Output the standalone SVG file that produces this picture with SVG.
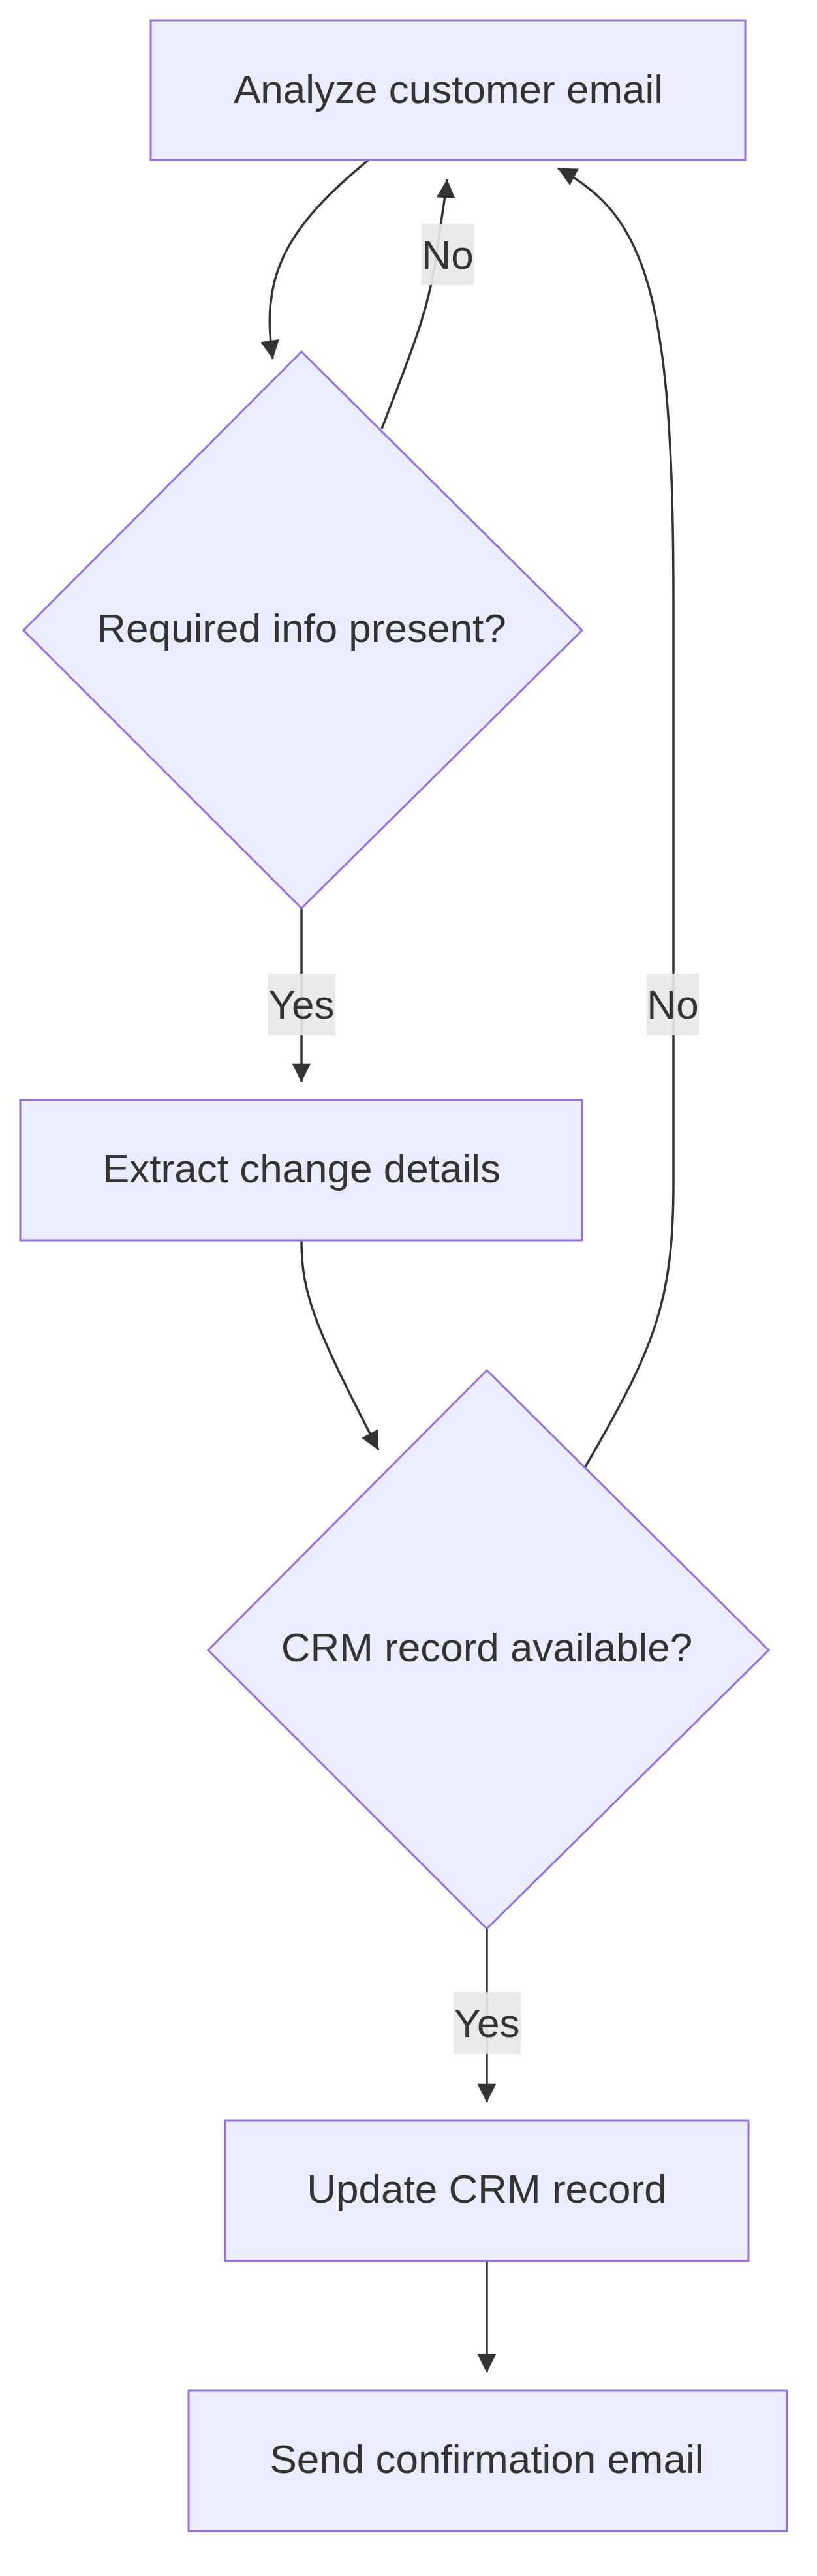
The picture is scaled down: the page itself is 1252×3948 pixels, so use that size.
<svg xmlns="http://www.w3.org/2000/svg" width="1252" height="3948" viewBox="0 0 1252 3948">
<style>
.node{fill:#ececff;stroke:#9370db;stroke-width:3}
.t{font-family:"Liberation Sans",Arial,sans-serif;font-size:62px;fill:#333;text-anchor:middle;dominant-baseline:central}
.e{fill:none;stroke:#333;stroke-width:3.5}
.lb{fill:#e8e8e8;opacity:0.9}
</style>
<defs>
<marker id="a" viewBox="0 0 10 10" refX="9" refY="5" markerWidth="9" markerHeight="9" markerUnits="userSpaceOnUse" orient="auto" overflow="visible">
<path d="M0,0 L10,5 L0,10 z" fill="#333" transform="scale(3.2) translate(-7,-3.4)"/>
</marker>
</defs>
<rect width="1252" height="3948" fill="#fff"/>
<g id="edges">
<path class="e" d="M565,245 C430,355 400,430 418,550" marker-end="url(#a)"/>
<path class="e" d="M585,657 C630,540 660,470 670,380 C682,300 684,290 685,275" marker-end="url(#a)"/>
<path class="e" d="M897,2248 C1000,2070 1032,2000 1032,1814 L1032,920 C1032,450 990,330 855,258" marker-end="url(#a)"/>
<path class="e" d="M462,1392 L462,1658" marker-end="url(#a)"/>
<path class="e" d="M462,1901 C462,1980 480,2030 580,2222" marker-end="url(#a)"/>
<path class="e" d="M746,2956 L746,3222" marker-end="url(#a)"/>
<path class="e" d="M746,3465 L746,3636" marker-end="url(#a)"/>
</g>
<g id="labels">
<rect class="lb" x="646" y="343" width="80" height="94"/><text class="t" x="686" y="390">No</text>
<rect class="lb" x="991" y="1492" width="80" height="95"/><text class="t" x="1031" y="1539">No</text>
<rect class="lb" x="411" y="1492" width="103" height="95"/><text class="t" x="462" y="1539">Yes</text>
<rect class="lb" x="695" y="3053" width="103" height="95"/><text class="t" x="746" y="3100">Yes</text>
</g>
<g id="n1"><rect class="node" x="231" y="31" width="911" height="214"/><text class="t" x="687" y="136">Analyze customer email</text></g>
<g id="n2"><polygon class="node" points="462,539 892,966 462,1392 36,966"/><text class="t" x="462" y="962">Required info present?</text></g>
<g id="n3"><rect class="node" x="31" y="1686" width="861" height="215"/><text class="t" x="462" y="1790">Extract change details</text></g>
<g id="n4"><polygon class="node" points="746,2100 1178,2529 746,2956 319,2529"/><text class="t" x="746" y="2524">CRM record available?</text></g>
<g id="n5"><rect class="node" x="345" y="3250" width="802" height="215"/><text class="t" x="746" y="3354">Update CRM record</text></g>
<g id="n6"><rect class="node" x="289" y="3664" width="917" height="215"/><text class="t" x="746" y="3768">Send confirmation email</text></g>
</svg>
